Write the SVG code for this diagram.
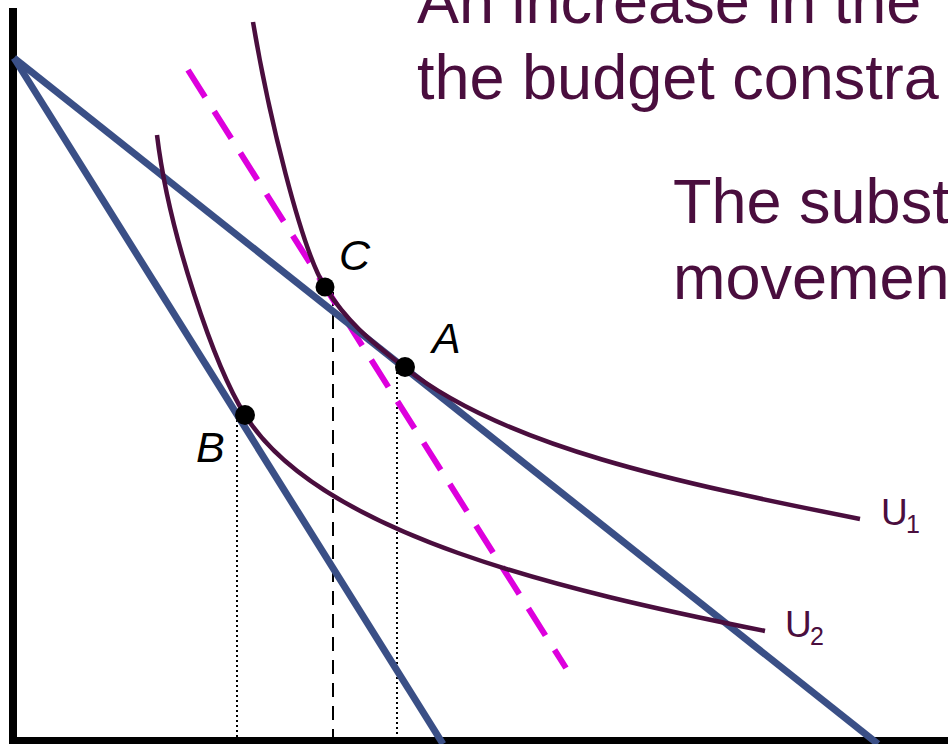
<svg xmlns="http://www.w3.org/2000/svg" width="948" height="744" viewBox="0 0 948 744">
<style>
.title{font-family:"Liberation Sans",Arial,sans-serif;font-size:63px;fill:#4a0e3e}
.pt{font-family:"Liberation Sans",Arial,sans-serif;font-size:43px;font-style:italic;fill:#000}
.ul{font-family:"Liberation Sans",Arial,sans-serif;font-size:37px;fill:#4a0e3e}
.sub{font-family:"Liberation Sans",Arial,sans-serif;font-size:25px;fill:#4a0e3e}
.axis{stroke:#000;stroke-width:8;fill:none}
.budget{stroke:#3a4f86;stroke-width:7;fill:none;stroke-linecap:butt}
.ic{stroke:#4a0e3e;stroke-width:4.5;fill:none}
.mag{stroke:#dd00dd;stroke-width:6;fill:none;stroke-dasharray:32 17}
.dot{stroke:#000;stroke-width:2;fill:none;stroke-dasharray:2 3}
.dash{stroke:#000;stroke-width:2;fill:none;stroke-dasharray:14 9}
</style>
<rect width="948" height="744" fill="#fff"/>
<g id="text">
<text class="title" x="417" y="23">An increase in the</text>
<text class="title" x="417" y="99">the budget constra</text>
<text class="title" x="673" y="223">The subst</text>
<text class="title" x="673" y="299">movemen</text>
</g>
<g id="axes">
<line class="axis" x1="13" y1="8" x2="13" y2="744"/>
<line class="axis" x1="9" y1="741" x2="948" y2="741"/>
</g>
<g id="connectors">
<line class="dot" x1="237" y1="420" x2="237" y2="738"/>
<line class="dash" x1="333" y1="292" x2="333" y2="738"/>
<line class="dot" x1="397" y1="372" x2="397" y2="738"/>
<line class="mag" x1="188" y1="70" x2="566" y2="668"/>
<line class="budget" x1="14" y1="58" x2="878" y2="744"/>
<line class="budget" x1="14" y1="58" x2="443" y2="744"/>
</g>
<g id="U1">
<path class="ic" d="M253,22 C268,112 301,249 325,287 C351,328 378,346 404,367 C504,447 680,483 860,519"/>
<text class="ul" x="881" y="525">U</text><text class="sub" x="906" y="533">1</text>
</g>
<g id="U2">
<path class="ic" d="M157,135 C169,235 215,367 245,415 C320,535 565,591 765,631"/>
<text class="ul" x="785" y="637">U</text><text class="sub" x="810" y="645">2</text>
</g>
<g id="C"><circle cx="325" cy="287" r="9.5"/><text class="pt" x="339" y="270">C</text></g>
<g id="A"><circle cx="405" cy="367" r="10"/><text class="pt" x="432" y="353">A</text></g>
<g id="B"><circle cx="245" cy="415" r="10"/><text class="pt" x="196" y="462">B</text></g>
</svg>
